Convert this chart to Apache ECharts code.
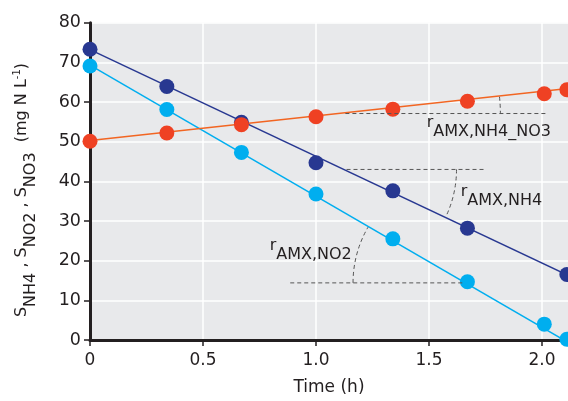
<!DOCTYPE html>
<html><head><meta charset="utf-8">
<script src="https://cdn.jsdelivr.net/npm/echarts@6/dist/echarts.min.js"></script>
<style>html,body{margin:0;padding:0;background:#fff}#c{width:568px;height:401px}</style>
</head><body><div id="c"></div>
<script>
// measured times (h)
var timesNH4 = [0, 0.34, 0.67, 1.0, 1.34, 1.67, 2.11];
var timesNO2 = [0, 0.34, 0.67, 1.0, 1.34, 1.67, 2.01, 2.11];
var timesNO3 = [0, 0.34, 0.67, 1.0, 1.34, 1.67, 2.01, 2.11];
// concentrations (mg N/L)
var valuesNH4 = [73.3, 63.9, 54.9, 44.7, 37.6, 28.2, 16.5];
var valuesNO2 = [69.1, 58.1, 47.3, 36.8, 25.5, 14.7, 4.0, 0.2];
var valuesNO3 = [50.1, 52.2, 54.3, 56.3, 58.2, 60.2, 62.1, 63.1];
// fitted regression line ends [time, value]
var fitNH4 = [[0, 73.2], [2.115, 16.3]];
var fitNO2 = [[0, 69.3], [2.115, -0.6]];
var fitNO3 = [[0, 50.3], [2.115, 63.4]];
// tick labels
var xTicks = [0, 0.5, 1.0, 1.5, 2.0];
var xTickLabels = ['0', '0.5', '1.0', '1.5', '2.0'];
// slope guide annotations (data coords): horizontal start/end time, level, arc radius(px), side
var guideNO3 = {t0: 1.13, t1: 2.02, v: 57.1, r: 155, side: 'right', fit: fitNO3, label: 'AMX,NH4_NO3', lt: 1.49, lv: 53.4};
var guideNH4 = {t0: 1.135, t1: 1.75, v: 43.0, r: 110, side: 'right', fit: fitNH4, label: 'AMX,NH4', lt: 1.64, lv: 36.1};
var guideNO2 = {t0: 0.886, t1: 1.655, v: 14.4, r: 111, side: 'left', fit: fitNO2, label: 'AMX,NO2', lt: 0.795, lv: 22.6};

var FONT = 'DejaVu Sans';
var cDark = '#283891', cLight = '#00aeef', cOrange = '#ef4123', cOrangeLine = '#f26522';
function pairs(t, v){ return t.map(function(x,i){ return [x, v[i]]; }); }

var chart = echarts.init(document.getElementById('c'));
chart.setOption({
  animation: false,
  grid: {left: 90, top: 22.7, right: 0, bottom: 59.3, show: true, backgroundColor: '#e8e9eb', borderWidth: 0},
  xAxis: {
    type: 'value', min: 0, max: 2.115, interval: 0.5,
    name: 'Time (h)', nameLocation: 'middle', nameGap: 39,
    nameTextStyle: {fontFamily: FONT, fontSize: 17, color: '#231f20'},
    axisLine: {show: true, onZero: false, lineStyle: {color: '#231f20', width: 3}},
    axisTick: {show: true, length: 6, lineStyle: {color: '#231f20', width: 1.5}, customValues: xTicks},
    axisLabel: {fontFamily: FONT, fontSize: 17, color: '#231f20', margin: 12, customValues: xTicks,
      formatter: function(v){ var i = xTicks.indexOf(v); return i >= 0 ? xTickLabels[i] : ''; }},
    splitLine: {show: true, lineStyle: {color: '#ffffff', width: 1.5}}
  },
  yAxis: {
    type: 'value', min: 0, max: 80, interval: 10,
    axisLine: {show: true, lineStyle: {color: '#231f20', width: 3}},
    axisTick: {show: true, length: 6, lineStyle: {color: '#231f20', width: 1.5}},
    axisLabel: {fontFamily: FONT, fontSize: 17.5, color: '#231f20', margin: 9},
    splitLine: {show: true, lineStyle: {color: '#ffffff', width: 1.5}}
  },
  series: [
    {type: 'line', data: fitNH4, symbol: 'none', lineStyle: {color: cDark, width: 1.5}, z: 2},
    {type: 'line', data: fitNO2, symbol: 'none', lineStyle: {color: cLight, width: 1.5}, z: 2},
    {type: 'line', data: fitNO3, symbol: 'none', lineStyle: {color: cOrangeLine, width: 1.5}, z: 2},
    {type: 'scatter', data: pairs(timesNH4, valuesNH4), symbolSize: 15, itemStyle: {color: cDark, opacity: 1}, z: 3, clip: false},
    {type: 'scatter', data: pairs(timesNO2, valuesNO2), symbolSize: 15, itemStyle: {color: cLight, opacity: 1}, z: 3, clip: false},
    {type: 'scatter', data: pairs(timesNO3, valuesNO3), symbolSize: 15, itemStyle: {color: cOrange, opacity: 1}, z: 3, clip: false}
  ]
});

function px(t, v){ return chart.convertToPixel({gridIndex: 0}, [t, v]); }
var graphics = [];
[guideNO3, guideNH4, guideNO2].forEach(function(g){
  var a = px(g.t0, g.v), b = px(g.t1, g.v);
  graphics.push({type: 'line', shape: {x1: a[0], y1: a[1], x2: b[0], y2: b[1]},
    style: {stroke: '#555', lineWidth: 1, lineDash: [4, 3]}, z: 10});
  var f0 = px(g.fit[0][0], g.fit[0][1]), f1 = px(g.fit[1][0], g.fit[1][1]);
  var ang = Math.atan2(f1[1] - f0[1], f1[0] - f0[0]); // canvas angle of fit line
  var c = g.side === 'right' ? a : b;
  var s, e;
  if (g.side === 'right') { s = Math.min(0, ang); e = Math.max(0, ang); }
  else { s = Math.PI; e = Math.PI + ang; }
  graphics.push({type: 'arc', shape: {cx: c[0], cy: c[1], r: g.r, startAngle: Math.min(s, e), endAngle: Math.max(s, e), clockwise: true},
    style: {stroke: '#555', fill: null, lineWidth: 1, lineDash: [4, 3]}, z: 10});
  var l = px(g.lt, g.lv);
  graphics.push({type: 'text', x: l[0], y: l[1], z: 11,
    style: {text: '{r|r}{s|' + g.label + '}', font: '16px ' + FONT, fill: '#231f20', align: 'left', verticalAlign: 'middle',
      rich: {r: {fontFamily: FONT, fontSize: 16, padding: [0, 0, 10, 0], verticalAlign: 'top'}, s: {fontFamily: FONT, fontSize: 16, padding: [8, 0, 0, 0]}}}});
});
// y-axis title
graphics.push({type: 'text', x: 25, y: 190, rotation: Math.PI / 2, z: 11,
  style: {text: '{m|S}{s|NH4}{m| , S}{s|NO2}{m| , S}{s|NO3}{m|  (mg N L}{p|-1}{m|)}',
    align: 'center', verticalAlign: 'middle', fill: '#231f20',
    rich: {m: {fontFamily: FONT, fontSize: 16, padding: [0, 0, 6, 0]}, s: {fontFamily: FONT, fontSize: 16, padding: [12, 0, 0, 0]}, p: {fontFamily: FONT, fontSize: 10, padding: [0, 0, 16, 0]}}}});
chart.setOption({graphic: graphics});
</script></body></html>
